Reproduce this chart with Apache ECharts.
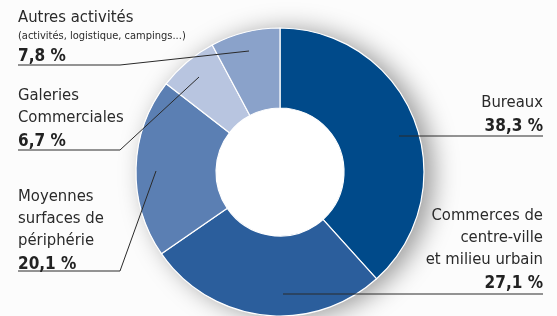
<!DOCTYPE html>
<html>
<head>
<meta charset="utf-8">
<script src="https://cdn.jsdelivr.net/npm/echarts@6/dist/echarts.min.js"></script>
<style>
  html, body { margin: 0; padding: 0; background: #fcfcfc; }
  #chart { width: 557px; height: 316px; }
</style>
</head>
<body>
<div id="chart"></div>
<script>
// parts of the built area, in %
var categories = ['Bureaux', 'Commerces de\ncentre-ville\net milieu urbain', 'Moyennes\nsurfaces de\npériphérie', 'Galeries\nCommerciales', 'Autres activités'];
var values = [38.3, 27.1, 20.1, 6.7, 7.8];
var subtitles = ['', '', '', '', '(activités, logistique, campings...)'];
var colors = ['#004a8a', '#2b5e9c', '#5b7fb3', '#b8c5e0', '#8aa2ca'];

// where each label sits and how its leader line runs
var labelPlaces = [
	{ x: 543, y: 92, align: 'right', line: [[399, 136], [470, 136], [543, 136]] },
	{ x: 543, y: 205, align: 'right', line: [[283, 294], [400, 294], [543, 294]] },
	{ x: 18, y: 186, align: 'left', line: [[156, 171], [120, 271], [18, 271]] },
	{ x: 18, y: 85, align: 'left', line: [[199, 77], [120, 150], [18, 150]] },
	{ x: 18, y: 7, align: 'left', line: [[249, 51], [120, 65], [18, 65]] }
];

var FONT = "'Liberation Sans Narrow', 'DejaVu Sans Condensed', sans-serif";

function fmt(v) {
	return v.toFixed(1).replace('.', ',') + ' %';
}

var pieData = categories.map(function (name, i) {
	return { name: name, value: values[i], itemStyle: { color: colors[i] } };
});

var myChart = echarts.init(document.getElementById('chart'));
myChart.setOption({
	backgroundColor: '#fcfcfc',
	animation: false,
	series: [
		{
			// white disc under the ring, carries the soft shadow
			type: 'pie',
			silent: true,
			center: [280, 172],
			radius: [0, 144],
			z: 1,
			label: { show: false },
			labelLine: { show: false },
			itemStyle: {
				color: '#ffffff',
				shadowBlur: 26,
				shadowOffsetX: 9,
				shadowOffsetY: 2,
				shadowColor: 'rgba(0,0,0,0.4)'
			},
			data: [{ value: 1 }]
		},
		{
			// the ring itself
			type: 'pie',
			center: [280, 172],
			radius: [64, 144],
			startAngle: 90,
			clockwise: true,
			z: 2,
			itemStyle: { borderColor: '#ffffff', borderWidth: 1.2 },
			label: { show: false },
			labelLine: { show: false },
			data: pieData
		},
		{
			// same slices, see-through, on top: carries the labels so the leader lines show over the ring
			type: 'pie',
			silent: true,
			center: [280, 172],
			radius: [64, 144],
			startAngle: 90,
			clockwise: true,
			z: 3,
			avoidLabelOverlap: false,
			itemStyle: { color: 'rgba(0,0,0,0)', borderWidth: 0 },
			label: {
				show: true,
				position: 'outside',
				fontFamily: FONT,
				formatter: function (p) {
					var s = '{n|' + p.name + '}';
					if (subtitles[p.dataIndex]) {
						s += '\n{s|' + subtitles[p.dataIndex] + '}';
					}
					s += '\n{v|' + fmt(p.value) + '}';
					return s;
				},
				rich: {
					n: { fontFamily: FONT, fontSize: 16.5, lineHeight: 22, color: '#2a2a2a' },
					s: { fontFamily: FONT, fontSize: 11, lineHeight: 15, color: '#2a2a2a' },
					v: { fontFamily: FONT, fontSize: 17, fontWeight: 'bold', lineHeight: 25, color: '#222222' }
				}
			},
			labelLine: {
				show: true,
				lineStyle: { color: '#2a2a2a', width: 1 }
			},
			labelLayout: function (params) {
				var p = labelPlaces[params.dataIndex];
				return {
					x: p.x,
					y: p.y,
					align: p.align,
					verticalAlign: 'top',
					labelLinePoints: p.line
				};
			},
			data: categories.map(function (name, i) {
				return { name: name, value: values[i] };
			})
		}
	]
});
</script>
</body>
</html>
